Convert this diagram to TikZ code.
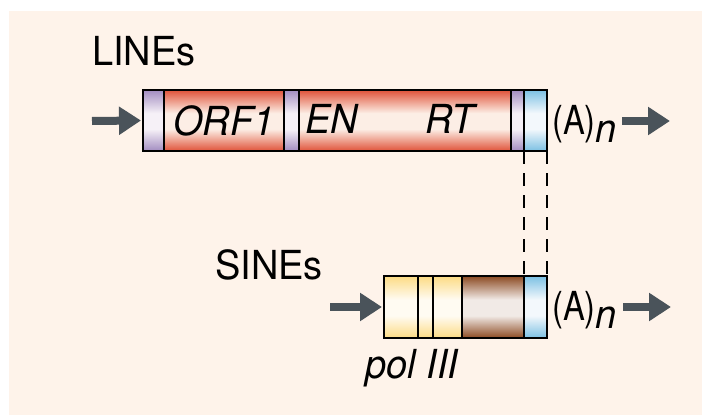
\documentclass[tikz,border=0pt]{standalone}
\usepackage{fontspec}
\setmainfont{TeX Gyre Heros}[FakeStretch=0.95]
\usetikzlibrary{arrows.meta}

\definecolor{bgpeach}{HTML}{FEF3EA}
\definecolor{arrowgray}{HTML}{4A535A}
\definecolor{redEdge}{HTML}{E0533A}
\definecolor{redMid}{HTML}{FCEEE5}
\definecolor{purpEdge}{HTML}{A28CC0}
\definecolor{purpMid}{HTML}{F6F1F7}
\definecolor{blueEdge}{HTML}{7CC0E3}
\definecolor{blueMid}{HTML}{F3F8FC}
\definecolor{yelEdge}{HTML}{FCDB84}
\definecolor{yelMid}{HTML}{FFFBF2}
\definecolor{brnEdge}{HTML}{8C4A22}
\definecolor{brnMid}{HTML}{F1EAE6}

% vertical bands: dark at the top and bottom, pale across the middle
% (TikZ fits the band 25bp..75bp of a 100bp shading to the filled shape)
\newcommand{\bandshading}[3]{%
  \pgfdeclareverticalshading{#1}{100bp}{color(0bp)=(#2); color(25bp)=(#2);
    color(43bp)=(#3); color(56bp)=(#3); color(75bp)=(#2); color(100bp)=(#2)}}
\bandshading{redband}{redEdge}{redMid}
\bandshading{purpband}{purpEdge}{purpMid}
\bandshading{blueband}{blueEdge}{blueMid}
\bandshading{yelband}{yelEdge}{yelMid}
\bandshading{brnband}{brnEdge}{brnMid}

\tikzset{
  seg/.style={draw=black, line width=1.2pt, anchor=north west, inner sep=0pt,
              outer sep=0pt, minimum height=#1},
  seg/.default=61pt,
  redseg/.style={shading=redband},
  purpseg/.style={shading=purpband},
  blueseg/.style={shading=blueband},
  yelseg/.style={shading=yelband},
  brnseg/.style={shading=brnband},
  lbl/.style={anchor=base west, inner sep=0pt, font=\fontsize{40}{44}\selectfont},
  seglbl/.style={font=\fontsize{40}{44}\selectfont\itshape},
  fatarrow/.style={draw=arrowgray, line width=8pt,
                   -{Triangle[length=22pt,width=27pt]}},
  link/.style={line width=2.2pt, dash pattern=on 13pt off 9pt}
}

\newcommand{\polyA}{\scalebox{0.86}[1]{(A)}\raisebox{-8pt}{\itshape n}}

\begin{document}
\begin{tikzpicture}[x=1pt,y=-1pt]
\useasboundingbox (0,0) rectangle (702,415);
\fill[bgpeach] (9,11) rectangle (702,415);

% ---- LINE element ----
\node[seg, purpseg, minimum width=21pt]  (lineL)   at (143,90) {};
\node[seg, redseg,  minimum width=120pt, seglbl] (orf1) at (164,90) {\raisebox{-11pt}{ORF1}};
\node[seg, purpseg, minimum width=15pt]  (linemid) at (284,90) {};
\node[seg, redseg,  minimum width=212pt] (enrt)    at (299,90) {};
\node[seg, purpseg, minimum width=13pt]  (lineR)   at (511,90) {};
\node[seg, blueseg, minimum width=23pt]  (lineA)   at (524,90) {};
\draw[line width=2pt] (lineL.north west) rectangle (lineA.south east);

\node[lbl, font=\fontsize{40}{44}\selectfont\itshape] (en) at (305,133) {EN};
\node[lbl, font=\fontsize{40}{44}\selectfont\itshape] (rt) at (425,133) {RT};

\node[lbl] (linetitle) at (92,65) {LINEs};
\node[lbl] (lineAn) at (552,134) {\polyA};

\coordinate (lineIn) at (92,121);
\draw[fatarrow] (lineIn) -- ([xshift=-2pt]lineL.west);
\coordinate (lineOutA) at (622,121);
\coordinate (lineOutB) at (670,121);
\draw[fatarrow] (lineOutA) -- (lineOutB);

% ---- SINE element ----
\node[seg=62pt, yelseg, minimum width=34pt] (sy1)  at (384,276) {};
\node[seg=62pt, yelseg, minimum width=15pt] (sy2)  at (418,276) {};
\node[seg=62pt, yelseg, minimum width=29pt] (sy3)  at (433,276) {};
\node[seg=62pt, brnseg, minimum width=62pt] (sbrn) at (462,276) {};
\node[seg=62pt, blueseg, minimum width=23pt] (sA)  at (524,276) {};
\draw[line width=2pt] (sy1.north west) rectangle (sA.south east);

\node[lbl] (sinetitle) at (215,279) {SINEs};
\node[lbl, font=\fontsize{40}{44}\selectfont\itshape] (pol) at (365,378) {pol III};
\node[lbl] (sineAn) at (552,320) {\polyA};

\coordinate (sineIn) at (330,307);
\draw[fatarrow] (sineIn) -- ([xshift=-2pt]sy1.west);
\coordinate (sineOutA) at (623,307);
\coordinate (sineOutB) at (671,307);
\draw[fatarrow] (sineOutA) -- (sineOutB);

% ---- shared 3' end ----
\draw[link] (lineA.south west) -- (sA.north west);
\draw[link] (lineA.south east) -- (sA.north east);
\end{tikzpicture}
\end{document}
